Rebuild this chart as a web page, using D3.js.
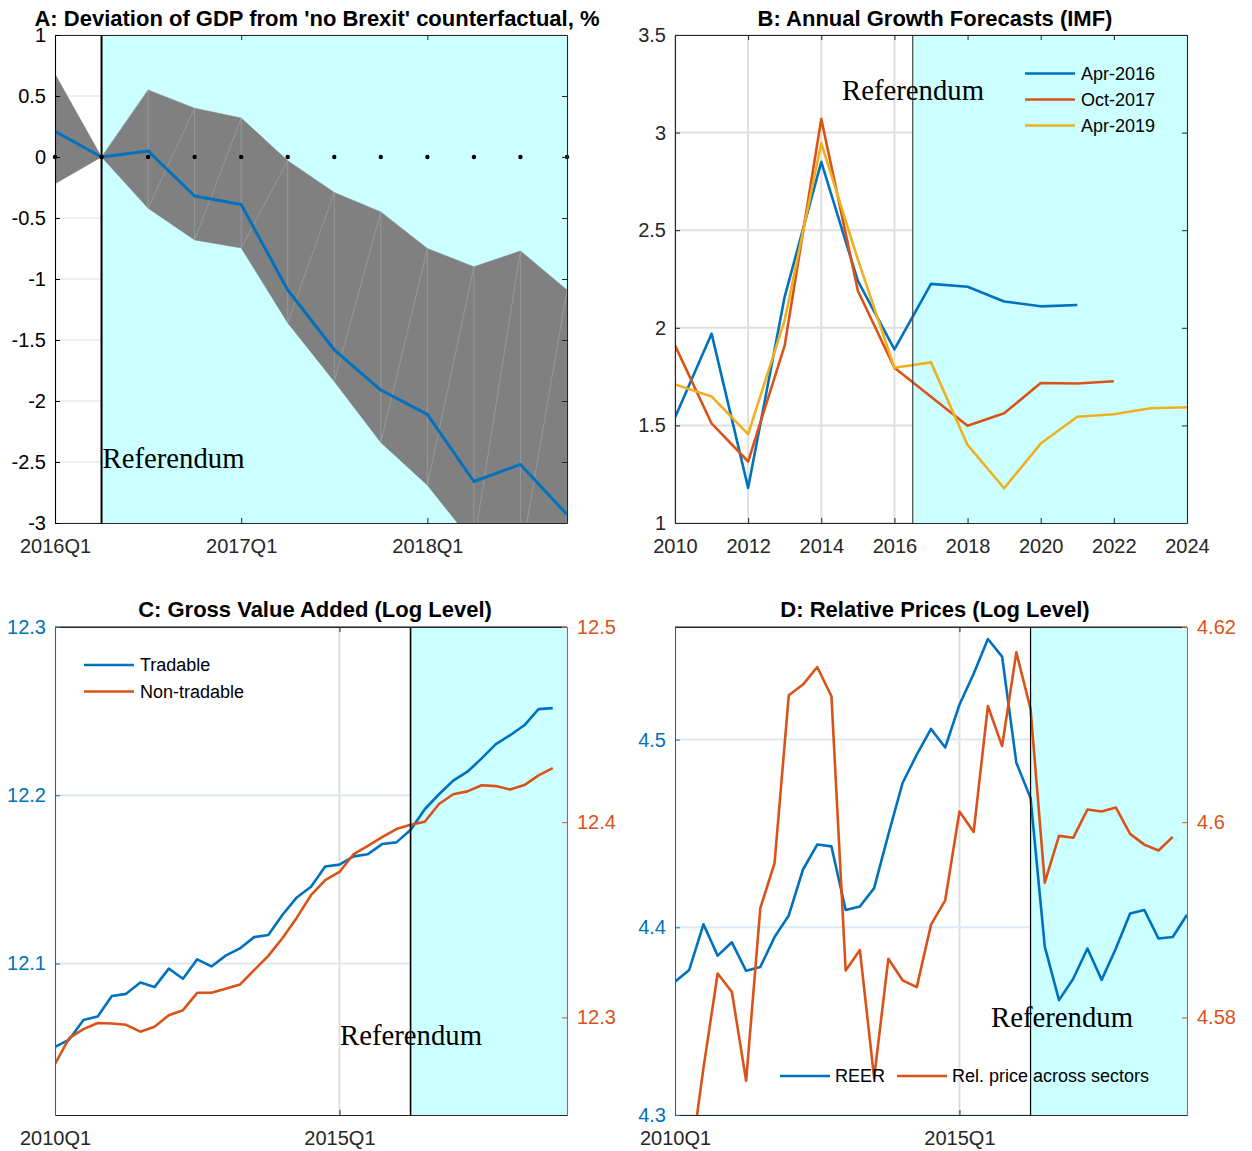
<!DOCTYPE html>
<html><head><meta charset="utf-8">
<script src="https://cdn.jsdelivr.net/npm/d3@7"></script>
<style>body{margin:0;background:#fff}svg{display:block}</style>
</head><body>
<svg id="chart" width="1252" height="1151"></svg>
<script>
// ---------------- DATA ----------------
// Panel A: quarters 2016Q1 .. 2018Q4
const quartersA = ["2016Q1","2016Q2","2016Q3","2016Q4","2017Q1","2017Q2","2017Q3","2017Q4","2018Q1","2018Q2","2018Q3","2018Q4"];
const gdpDeviation = [0.21, 0.00, 0.05, -0.32, -0.39, -1.09, -1.58, -1.91, -2.11, -2.66, -2.52, -2.93];
const bandUpper    = [0.68, 0.00, 0.55, 0.40, 0.32, -0.03, -0.29, -0.45, -0.75, -0.90, -0.77, -1.09];
const bandLower    = [-0.22, 0.00, -0.42, -0.68, -0.745, -1.36, -1.84, -2.34, -2.69, -3.17, -3.30, -3.60];
const zeroLineA    = [0,0,0,0,0,0,0,0,0,0,0,0];
const xTickLabelsA = ["2016Q1","2017Q1","2018Q1"];
const yTicksA = [1, 0.5, 0, -0.5, -1, -1.5, -2, -2.5, -3];
const referendumA = "2016Q2";

// Panel B: IMF annual growth forecasts
const yearsB = [2010,2011,2012,2013,2014,2015,2016,2017,2018,2019,2020,2021,2022,2023,2024];
const apr2016 = [1.54, 1.97, 1.18, 2.16, 2.85, 2.24, 1.89, 2.225, 2.21, 2.135, 2.11, 2.117];
const oct2017 = [1.91, 1.51, 1.315, 1.91, 3.07, 2.19, 1.795, 1.647, 1.498, 1.562, 1.717, 1.715, 1.726];
const apr2019 = [1.71, 1.648, 1.455, 2.04, 2.946, 2.35, 1.795, 1.823, 1.40, 1.178, 1.407, 1.544, 1.557, 1.588, 1.593];
const seriesNamesB = ["Apr-2016","Oct-2017","Apr-2019"];
const xTicksB = [2010,2012,2014,2016,2018,2020,2022,2024];
const yTicksB = [1, 1.5, 2, 2.5, 3, 3.5];
const referendumB = 2016.5;

// Panel C: Gross value added (log level), 2010Q1 .. 2018Q4
const gvaTradable = [12.0505,12.0548,12.0665,12.0686,12.0807,12.0820,12.0887,12.0860,12.0970,12.0910,
  12.1025,12.0983,12.1047,12.1090,12.1157,12.1170,12.1290,12.1393,12.1456,12.1577,
  12.1588,12.1637,12.1650,12.1710,12.1720,12.1794,12.1917,12.2006,12.2087,12.2140,
  12.2219,12.2304,12.2357,12.2416,12.2512,12.2518];
const gvaNonTradable = [12.2762,12.2894,12.2940,12.2971,12.2969,12.2962,12.2927,12.2952,12.3011,12.3037,
  12.3126,12.3126,12.3147,12.3168,12.3242,12.3315,12.3407,12.3511,12.3626,12.3703,
  12.3745,12.3837,12.3879,12.3923,12.3965,12.3987,12.4002,12.4093,12.4143,12.4158,
  12.4189,12.4185,12.4167,12.4190,12.4240,12.4277];
const seriesNamesC = ["Tradable","Non-tradable"];
const yTicksCLeft = [12.1, 12.2, 12.3];
const yTicksCRight = [12.3, 12.4, 12.5];

// Panel D: Relative prices (log level)
const reer = [4.371,4.3773,4.4016,4.3849,4.392,4.3768,4.3789,4.3948,4.4063,4.4308,
  4.4441,4.4431,4.4092,4.4111,4.4209,4.4494,4.4769,4.492,4.5057,4.4958,
  4.5186,4.5351,4.5536,4.5442,4.4877,4.4689,4.3897,4.3612,4.3726,4.3887,
  4.372,4.3887,4.4073,4.4092,4.394,4.3948,4.4067];
const relPrice = [4.566,4.5641,4.5748,4.5845,4.5826,4.5735,4.5912,4.5958,4.6130,4.6141,
  4.6159,4.6129,4.5848,4.5869,4.5738,4.5860,4.5838,4.5831,4.5895,4.5920,
  4.6011,4.5990,4.6119,4.6078,4.6174,4.6116,4.5938,4.5986,4.5984,4.6013,
  4.6011,4.6015,4.5988,4.5977,4.5971,4.5985];
const seriesNamesD = ["REER","Rel. price across sectors"];
const yTicksDLeft = [4.3, 4.4, 4.5];
const yTicksDRight = [4.58, 4.6, 4.62];

// Panels C & D x axis
const quarterTicksCD = ["2010Q1","2015Q1"];
const referendumCD = "2016Q2";

const titles = ["A: Deviation of GDP from 'no Brexit' counterfactual, %",
  "B: Annual Growth Forecasts (IMF)",
  "C: Gross Value Added (Log Level)",
  "D: Relative Prices (Log Level)"];
const refLabel = "Referendum";

// ---------------- STYLE ----------------
const SANS = "'Liberation Sans', Arial, Helvetica, sans-serif";
const SERIF = "'Liberation Serif', 'Times New Roman', serif";
const BLUE = "#0072BD", ORANGE = "#D95319", YELLOW = "#EDB120";
const CYAN = "#CCFFFF", GRID = "#dfdfdf", GRIDBLUE = "#d9eaf5", AX = "#262626";

const svg = d3.select("#chart");
const defs = svg.append("defs");

// quarter string -> index from a base year
function qIndex(q, baseYear) {
  const y = +q.slice(0,4), n = +q.slice(5);
  return (y - baseYear) * 4 + (n - 1);
}

function clip(id, P) {
  defs.append("clipPath").attr("id", id).append("rect")
    .attr("x", P.x0).attr("y", P.y0).attr("width", P.x1 - P.x0).attr("height", P.y1 - P.y0);
  return `url(#${id})`;
}

function styleAxis(g, color, size) {
  g.attr("font-family", null).attr("font-size", null);
  g.selectAll("path.domain").attr("stroke", color).attr("stroke-width", 1.1);
  g.selectAll(".tick line").attr("stroke", color).attr("stroke-width", 1);
  g.selectAll(".tick text").attr("fill", color).style("font-family", SANS).style("font-size", (size||20) + "px");
}

function title(text, cx, y) {
  svg.append("text").attr("x", cx).attr("y", y).attr("text-anchor", "middle")
    .style("font-family", SANS).style("font-weight", "bold").style("font-size", "22px")
    .attr("fill", "#000").text(text);
}

function refText(x, y, anchor) {
  svg.append("text").attr("x", x).attr("y", y).attr("text-anchor", anchor || "start")
    .style("font-family", SERIF).style("font-size", "29px").attr("fill", "#000")
    .attr("textLength", 142).attr("lengthAdjust", "spacingAndGlyphs")
    .text(refLabel);
}

function legend(items, x, y, dy) {
  items.forEach((it, i) => {
    svg.append("line").attr("x1", x).attr("x2", x + 50).attr("y1", y + i*dy).attr("y2", y + i*dy)
      .attr("stroke", it.color).attr("stroke-width", 2.5);
    svg.append("text").attr("x", x + 56).attr("y", y + i*dy).attr("dy", "0.35em")
      .style("font-family", SANS).style("font-size", "18px").attr("fill", "#000").text(it.name);
  });
}

// ================= PANEL A =================
(function(){
  const P = {x0:55, x1:567, y0:35, y1:523};
  const x = d3.scaleLinear().domain([0, quartersA.length - 1]).range([P.x0, P.x1]);
  const y = d3.scaleLinear().domain([-3, 1]).range([P.y1, P.y0]);
  const cp = clip("clipA", P);
  const g = svg.append("g");

  // grid
  g.selectAll(".gy").data(yTicksA).join("line")
    .attr("x1", P.x0).attr("x2", P.x1).attr("y1", d => y(d)).attr("y2", d => y(d))
    .attr("stroke", GRID).attr("stroke-width", 1);
  // referendum patch
  const rx = x(quartersA.indexOf(referendumA));
  g.append("rect").attr("x", rx).attr("y", P.y0).attr("width", P.x1 - rx).attr("height", P.y1 - P.y0).attr("fill", CYAN);

  const dg = svg.append("g").attr("clip-path", cp);
  // band
  const area = d3.area().x((d,i) => x(i)).y0((d,i) => y(bandLower[i])).y1((d,i) => y(bandUpper[i]));
  dg.append("path").datum(quartersA).attr("d", area).attr("fill", "#808080").attr("stroke", "#808080").attr("stroke-width", 0.5);
  // rendering seams of the band
  const seams = [];
  for (let i = 1; i < quartersA.length - 1; i++) {
    seams.push([[x(i+1), y(bandUpper[i+1])], [x(i+1), y(bandLower[i+1])]]);
    seams.push([[x(i), y(bandLower[i])], [x(i+1), y(bandUpper[i+1])]]);
  }
  dg.selectAll(".seam").data(seams).join("path")
    .attr("d", d => d3.line()(d)).attr("stroke", "#a7b6b6").attr("stroke-width", 0.6).attr("opacity", 0.8).attr("fill", "none");
  // central line
  dg.append("path").datum(gdpDeviation)
    .attr("d", d3.line().x((d,i) => x(i)).y(d => y(d)))
    .attr("fill", "none").attr("stroke", BLUE).attr("stroke-width", 3).attr("stroke-linejoin", "round");
  // zero dots
  svg.append("g").selectAll("circle").data(zeroLineA).join("circle")
    .attr("cx", (d,i) => x(i)).attr("cy", d => y(d)).attr("r", 2.2).attr("fill", "#000");
  // referendum line
  svg.append("line").attr("x1", rx).attr("x2", rx).attr("y1", P.y0).attr("y2", P.y1).attr("stroke", "#000").attr("stroke-width", 2);
  refText(rx + 1, 468);

  // axes
  const xt = xTickLabelsA.map(q => quartersA.indexOf(q));
  const ax = svg.append("g").attr("transform", `translate(0,${P.y1})`)
    .call(d3.axisBottom(x).tickValues(xt).tickFormat((d,i) => xTickLabelsA[i]).tickSizeInner(-5).tickSizeOuter(0).tickPadding(16));
  styleAxis(ax, AX);
  const axT = svg.append("g").attr("transform", `translate(0,${P.y0})`)
    .call(d3.axisTop(x).tickValues(xt).tickFormat("").tickSizeInner(-5).tickSizeOuter(0));
  styleAxis(axT, AX);
  const ay = svg.append("g").attr("transform", `translate(${P.x0},0)`)
    .call(d3.axisLeft(y).tickValues(yTicksA).tickFormat(d => String(d)).tickSizeInner(-5).tickSizeOuter(0).tickPadding(9));
  styleAxis(ay, "#000");
  const ayR = svg.append("g").attr("transform", `translate(${P.x1},0)`)
    .call(d3.axisRight(y).tickValues(yTicksA).tickFormat("").tickSizeInner(-5).tickSizeOuter(0));
  styleAxis(ayR, AX);
  title(titles[0], 317, 26);
})();

// ================= PANEL B =================
(function(){
  const P = {x0:675, x1:1187, y0:35, y1:523};
  const x = d3.scaleLinear().domain([yearsB[0], yearsB[yearsB.length-1]]).range([P.x0, P.x1]);
  const y = d3.scaleLinear().domain([1, 3.5]).range([P.y1, P.y0]);
  const cp = clip("clipB", P);
  const g = svg.append("g");
  g.selectAll(".gx").data(xTicksB).join("line")
    .attr("x1", d => x(d)).attr("x2", d => x(d)).attr("y1", P.y0).attr("y2", P.y1)
    .attr("stroke", GRID).attr("stroke-width", 2);
  g.selectAll(".gy").data(yTicksB).join("line")
    .attr("x1", P.x0).attr("x2", P.x1).attr("y1", d => y(d)).attr("y2", d => y(d))
    .attr("stroke", GRID).attr("stroke-width", 2);
  const rx = x(referendumB);
  g.append("rect").attr("x", rx).attr("y", P.y0).attr("width", P.x1 - rx).attr("height", P.y1 - P.y0).attr("fill", CYAN);

  const dg = svg.append("g").attr("clip-path", cp);
  const line = d3.line().x((d,i) => x(yearsB[i])).y(d => y(d));
  [[apr2016, BLUE], [oct2017, ORANGE], [apr2019, YELLOW]].forEach(([s, c]) => {
    dg.append("path").datum(s).attr("d", line).attr("fill", "none").attr("stroke", c).attr("stroke-width", 2.6).attr("stroke-linejoin", "round");
  });
  svg.append("line").attr("x1", rx).attr("x2", rx).attr("y1", P.y0).attr("y2", P.y1).attr("stroke", "#444").attr("stroke-width", 1.2);
  refText(913, 100, "middle");

  const ax = svg.append("g").attr("transform", `translate(0,${P.y1})`)
    .call(d3.axisBottom(x).tickValues(xTicksB).tickFormat(d3.format("d")).tickSizeInner(-5).tickSizeOuter(0).tickPadding(16));
  styleAxis(ax, AX);
  const axT = svg.append("g").attr("transform", `translate(0,${P.y0})`)
    .call(d3.axisTop(x).tickValues(xTicksB).tickFormat("").tickSizeInner(-5).tickSizeOuter(0));
  styleAxis(axT, AX);
  const ay = svg.append("g").attr("transform", `translate(${P.x0},0)`)
    .call(d3.axisLeft(y).tickValues(yTicksB).tickFormat(d => String(d)).tickSizeInner(-5).tickSizeOuter(0).tickPadding(9));
  styleAxis(ay, AX);
  const ayR = svg.append("g").attr("transform", `translate(${P.x1},0)`)
    .call(d3.axisRight(y).tickValues(yTicksB).tickFormat("").tickSizeInner(-5).tickSizeOuter(0));
  styleAxis(ayR, AX);
  legend(seriesNamesB.map((n,i) => ({name:n, color:[BLUE,ORANGE,YELLOW][i]})), 1025, 73.5, 26);
  title(titles[1], 935, 26);
})();

// ================= PANELS C & D (dual axis) =================
function dualPanel(P, cfg) {
  const x = d3.scaleLinear().domain([0, 36]).range([P.x0, P.x1]);
  const yL = d3.scaleLinear().domain(cfg.leftDomain).range([P.y1, P.y0]);
  const yR = d3.scaleLinear().domain(cfg.rightDomain).range([P.y1, P.y0]);
  const cp = clip(cfg.id, P);
  const g = svg.append("g");
  const xt = quarterTicksCD.map(q => qIndex(q, 2010));
  g.selectAll(".gx").data(xt.filter(d => d > 0)).join("line")
    .attr("x1", d => x(d)).attr("x2", d => x(d)).attr("y1", P.y0).attr("y2", P.y1)
    .attr("stroke", GRID).attr("stroke-width", 2);
  g.selectAll(".gy").data(cfg.leftTicks).join("line")
    .attr("x1", P.x0).attr("x2", P.x1).attr("y1", d => yL(d)).attr("y2", d => yL(d))
    .attr("stroke", GRIDBLUE).attr("stroke-width", 2);
  const rx = x(qIndex(referendumCD, 2010));
  g.append("rect").attr("x", rx).attr("y", P.y0).attr("width", P.x1 - rx).attr("height", P.y1 - P.y0).attr("fill", CYAN);

  const dg = svg.append("g").attr("clip-path", cp);
  dg.append("path").datum(cfg.left).attr("d", d3.line().x((d,i) => x(i)).y(d => yL(d)))
    .attr("fill", "none").attr("stroke", BLUE).attr("stroke-width", 2.6).attr("stroke-linejoin", "round");
  dg.append("path").datum(cfg.right).attr("d", d3.line().x((d,i) => x(i)).y(d => yR(d)))
    .attr("fill", "none").attr("stroke", ORANGE).attr("stroke-width", 2.6).attr("stroke-linejoin", "round");
  svg.append("line").attr("x1", rx).attr("x2", rx).attr("y1", P.y0).attr("y2", P.y1).attr("stroke", "#000").attr("stroke-width", cfg.refWidth);
  refText(cfg.refX, cfg.refY);

  const ax = svg.append("g").attr("transform", `translate(0,${P.y1})`)
    .call(d3.axisBottom(x).tickValues(xt).tickFormat((d,i) => quarterTicksCD[i]).tickSizeInner(-5).tickSizeOuter(0).tickPadding(16));
  styleAxis(ax, AX);
  svg.append("line").attr("x1", P.x0).attr("x2", P.x1).attr("y1", P.y0).attr("y2", P.y0).attr("stroke", AX).attr("stroke-width", 1.1);
  const axT = svg.append("g").attr("transform", `translate(0,${P.y0})`)
    .call(d3.axisTop(x).tickValues(xt).tickFormat("").tickSizeInner(-5).tickSizeOuter(0));
  styleAxis(axT, AX);
  const ay = svg.append("g").attr("transform", `translate(${P.x0},0)`)
    .call(d3.axisLeft(yL).tickValues(cfg.leftTicks).tickFormat(cfg.leftFmt).tickSizeInner(-5).tickSizeOuter(0).tickPadding(9));
  styleAxis(ay, BLUE);
  const ayR = svg.append("g").attr("transform", `translate(${P.x1},0)`)
    .call(d3.axisRight(yR).tickValues(cfg.rightTicks).tickFormat(cfg.rightFmt).tickSizeInner(-5).tickSizeOuter(0).tickPadding(10));
  styleAxis(ayR, ORANGE);
}

dualPanel({x0:55, x1:567, y0:627, y1:1115}, {
  id: "clipC", leftDomain: [12.01, 12.3], rightDomain: [12.25, 12.5],
  left: gvaTradable, right: gvaNonTradable,
  leftTicks: yTicksCLeft, rightTicks: yTicksCRight,
  leftFmt: d3.format(".1f"), rightFmt: d3.format(".1f"),
  refX: 340, refY: 1045, refWidth: 1.6
});
legend(seriesNamesC.map((n,i) => ({name:n, color:[BLUE,ORANGE][i]})), 84, 665, 26.5);
title(titles[2], 315, 617);

dualPanel({x0:675, x1:1187, y0:627, y1:1115}, {
  id: "clipD", leftDomain: [4.3, 4.56], rightDomain: [4.57, 4.62],
  left: reer, right: relPrice,
  leftTicks: yTicksDLeft, rightTicks: yTicksDRight,
  leftFmt: d3.format(".1f"), rightFmt: d => String(+d.toFixed(2)),
  refX: 991, refY: 1027, refWidth: 1.2
});
// legend D (horizontal)
[[seriesNamesD[0], BLUE, 780], [seriesNamesD[1], ORANGE, 897]].forEach(([n, c, lx]) => {
  svg.append("line").attr("x1", lx).attr("x2", lx + 50).attr("y1", 1076).attr("y2", 1076).attr("stroke", c).attr("stroke-width", 2.5);
  svg.append("text").attr("x", lx + 55).attr("y", 1076).attr("dy", "0.35em")
    .style("font-family", SANS).style("font-size", "18px").attr("fill", "#000").text(n);
});
title(titles[3], 935, 617);
</script>
</body></html>
